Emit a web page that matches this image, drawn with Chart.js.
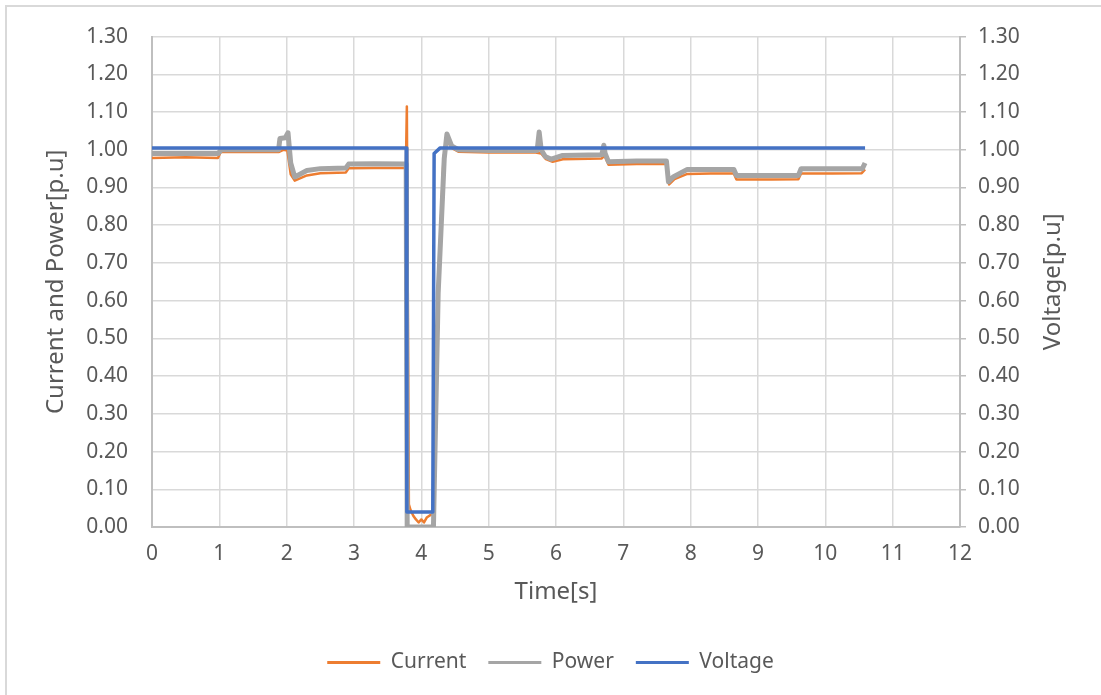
<!DOCTYPE html>
<html lang="en">
<head>
    <meta charset="UTF-8">
    <title>Current, Power and Voltage</title>
    <script src="https://cdn.jsdelivr.net/npm/chart.js"></script>
    <style>
        * {
            margin: 0;
            padding: 0;
            box-sizing: border-box;
        }

        body {
            background: #ffffff;
            width: 1101px;
            height: 695px;
            overflow: hidden;
            position: relative;
        }

        .frame {
            position: absolute;
            left: 5px;
            top: 5px;
            width: 1200px;
            height: 800px;
            border: 2px solid #d9d9d9;
        }

        #chart {
            position: absolute;
            left: 0;
            top: 0;
        }
    </style>
</head>
<body>
    <div class="frame"></div>
    <canvas id="chart" width="1101" height="695"></canvas>

    <script>
        // Time [s] and per-unit values
        const currentT = [0, 0.5, 0.98, 1.02, 1.5, 1.88, 1.95, 2.01, 2.06, 2.12, 2.3, 2.5, 2.88, 2.92, 3.3, 3.77,
            3.785, 3.815, 3.84, 3.88, 3.92, 3.96, 4.0, 4.04, 4.08, 4.12, 4.17, 4.19, 4.23, 4.27, 4.33, 4.38,
            4.45, 4.55, 5.0, 5.7, 5.78, 5.85, 5.95, 6.1, 6.68, 6.72, 6.78, 7.2, 7.64, 7.68, 7.76, 7.95,
            8.3, 8.64, 8.68, 9.2, 9.6, 9.64, 10.1, 10.54, 10.59];
        const currentV = [0.978, 0.98, 0.978, 0.994, 0.995, 0.994, 1.0, 0.998, 0.935, 0.918, 0.932, 0.938, 0.94, 0.951, 0.952, 0.952,
            1.115, 0.06, 0.045, 0.03, 0.02, 0.012, 0.02, 0.012, 0.025, 0.03, 0.035, 0.04, 0.4, 0.72, 0.98, 1.025,
            1.005, 0.995, 0.993, 0.993, 0.99, 0.975, 0.968, 0.975, 0.977, 0.985, 0.96, 0.962, 0.962, 0.908, 0.922, 0.936,
            0.937, 0.937, 0.921, 0.921, 0.922, 0.937, 0.937, 0.938, 0.948];

        const powerT = [0, 0.5, 0.98, 1.03, 1.5, 1.88, 1.9, 1.98, 2.02, 2.06, 2.12, 2.3, 2.5, 2.88, 2.92, 3.3,
            3.775, 3.79, 4.18, 4.22, 4.25, 4.34, 4.38, 4.45, 4.55, 5.0, 5.72, 5.75, 5.78, 5.84, 5.93, 6.1,
            6.68, 6.71, 6.73, 6.78, 7.2, 7.64, 7.67, 7.74, 7.95, 8.3, 8.64, 8.68, 9.2, 9.6, 9.64, 10.1,
            10.55, 10.59];
        const powerV = [0.99, 0.99, 0.99, 1.0, 1.0, 1.0, 1.03, 1.032, 1.045, 0.965, 0.928, 0.945, 0.95, 0.952, 0.962, 0.963,
            0.962, 0.0, 0.0, 0.35, 0.62, 0.976, 1.042, 1.01, 1.0, 0.998, 0.998, 1.047, 1.0, 0.982, 0.975, 0.985,
            0.987, 1.012, 0.99, 0.968, 0.97, 0.97, 0.915, 0.928, 0.948, 0.948, 0.948, 0.932, 0.932, 0.932, 0.95, 0.95,
            0.95, 0.965];

        const voltageT = [0, 3.775, 3.785, 4.17, 4.19, 4.28, 10.59];
        const voltageV = [1.005, 1.005, 0.04, 0.04, 0.99, 1.005, 1.005];

        const seriesNames = ['Current', 'Power', 'Voltage'];
        const seriesColors = ['#ed7d31', '#a5a5a5', '#4472c4'];

        const xTitle = 'Time[s]';
        const yTitle = 'Current and Power[p.u]';
        const y1Title = 'Voltage[p.u]';

        const textColor = '#595959';
        const fontFamily = "'Noto Sans', sans-serif";

        Chart.defaults.font.family = fontFamily;
        Chart.defaults.color = textColor;

        function points(ts, vs) {
            return ts.map((t, i) => ({x: t, y: vs[i]}));
        }

        // right axis title reads bottom to top, like the left one
        const rightTitle = {
            id: 'rightTitle',
            afterDraw(chart) {
                const s = chart.scales.y1;
                const ctx = chart.ctx;
                ctx.save();
                ctx.translate(s.left + 93, (s.top + s.bottom) / 2);
                ctx.rotate(-Math.PI / 2);
                ctx.font = '24px ' + fontFamily;
                ctx.fillStyle = textColor;
                ctx.textAlign = 'center';
                ctx.textBaseline = 'middle';
                ctx.fillText(y1Title, 0, 0);
                ctx.restore();
            }
        };

        const tickLabel = v => v.toFixed(2);

        new Chart(document.getElementById('chart'), {
            type: 'line',
            data: {
                datasets: [{
                    label: seriesNames[0],
                    data: points(currentT, currentV),
                    borderColor: seriesColors[0],
                    backgroundColor: seriesColors[0],
                    borderWidth: 2.5,
                    yAxisID: 'y',
                    order: 3
                }, {
                    label: seriesNames[1],
                    data: points(powerT, powerV),
                    borderColor: seriesColors[1],
                    backgroundColor: seriesColors[1],
                    borderWidth: 5,
                    yAxisID: 'y',
                    order: 2
                }, {
                    label: seriesNames[2],
                    data: points(voltageT, voltageV),
                    borderColor: seriesColors[2],
                    backgroundColor: seriesColors[2],
                    borderWidth: 3.5,
                    yAxisID: 'y1',
                    order: 1
                }]
            },
            options: {
                responsive: false,
                animation: false,
                elements: {
                    point: {radius: 0},
                    line: {tension: 0, borderJoinStyle: 'round'}
                },
                layout: {
                    padding: {left: 0, right: 0, top: 35, bottom: 12}
                },
                plugins: {
                    tooltip: {enabled: false},
                    legend: {
                        position: 'bottom',
                        labels: {
                            boxWidth: 53,
                            boxHeight: 3,
                            padding: 22,
                            color: textColor,
                            font: {size: 21},
                            sort: (a, b) => a.datasetIndex - b.datasetIndex,
                            generateLabels(chart) {
                                const items = Chart.defaults.plugins.legend.labels.generateLabels(chart);
                                items.forEach(it => {
                                    it.fillStyle = it.strokeStyle;
                                    it.lineWidth = 0;
                                });
                                return items;
                            }
                        }
                    }
                },
                scales: {
                    x: {
                        type: 'linear',
                        min: 0,
                        max: 12,
                        ticks: {stepSize: 1, font: {size: 21}, padding: 14},
                        grid: {color: '#d9d9d9', lineWidth: 1.5, drawTicks: false},
                        border: {color: '#bfbfbf', width: 2},
                        title: {
                            display: true,
                            text: xTitle,
                            font: {size: 24},
                            padding: {top: 0, bottom: 23}
                        },
                        afterFit: s => { s.height = 103; }
                    },
                    y: {
                        position: 'left',
                        min: 0,
                        max: 1.3,
                        ticks: {stepSize: 0.1, font: {size: 21}, padding: 24, callback: tickLabel},
                        grid: {color: '#d9d9d9', lineWidth: 1.5, drawTicks: false},
                        border: {color: '#bfbfbf', width: 2},
                        title: {
                            display: true,
                            text: yTitle,
                            font: {size: 24},
                            padding: {top: 42, bottom: 0}
                        },
                        afterFit: s => { s.width = 152; }
                    },
                    y1: {
                        position: 'right',
                        min: 0,
                        max: 1.3,
                        ticks: {stepSize: 0.1, font: {size: 21}, padding: 12, callback: tickLabel},
                        grid: {drawOnChartArea: false, color: '#bfbfbf', lineWidth: 1.5, tickLength: 6},
                        border: {color: '#bfbfbf', width: 2},
                        afterFit: s => { s.width = 141; }
                    }
                }
            },
            plugins: [rightTitle]
        });
    </script>
</body>
</html>
